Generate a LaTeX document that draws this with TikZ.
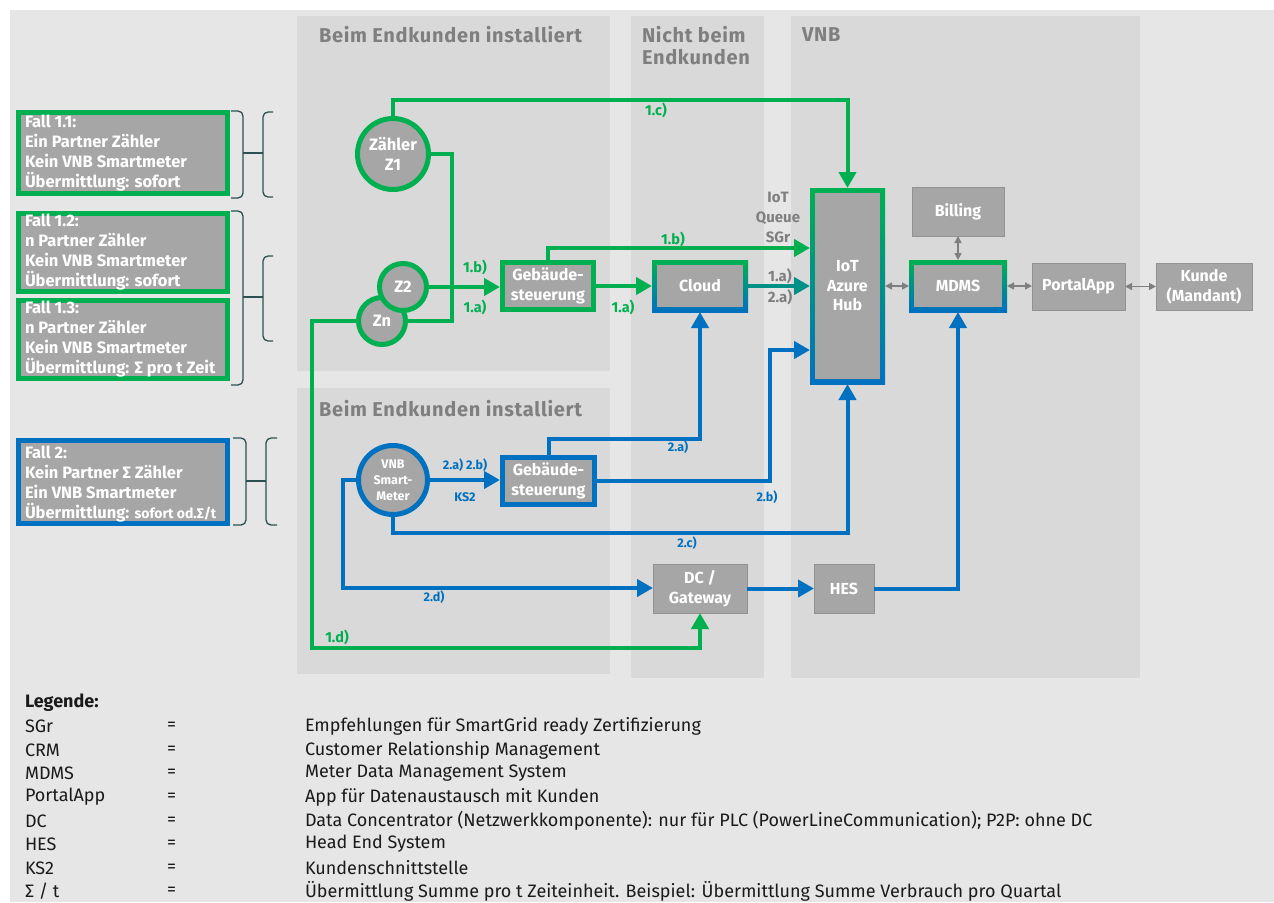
\documentclass[tikz,border=0pt]{standalone}
\usepackage{fontspec}
\setmainfont{Fira Sans}
\usetikzlibrary{arrows.meta,calc}
\definecolor{grn}{HTML}{00B050}
\definecolor{blu}{HTML}{0070C0}
\definecolor{boxg}{HTML}{A6A6A6}
\definecolor{pnl}{HTML}{D9D9D9}
\definecolor{bgc}{HTML}{E6E6E6}
\definecolor{hdr}{HTML}{7F7F7F}
\definecolor{brc}{HTML}{2A5050}
\definecolor{legc}{HTML}{1A1A1A}
\begin{document}
\begin{tikzpicture}[x=1pt,y=-1pt,
  every node/.style={inner sep=0pt, outer sep=0pt},
  gbox/.style={draw=grn, line width=5pt, fill=boxg, outer sep=2.5pt, text=white, align=center, font=\fontsize{16}{19.5}\selectfont\bfseries},
  bbox/.style={gbox, draw=blu},
  pbox/.style={draw=boxg!88!black, line width=0.8pt, fill=boxg, text=white, align=center, font=\fontsize{16}{19.5}\selectfont\bfseries},
  gradbox/.style={top color=grn, bottom color=blu, text=white, align=center, font=\fontsize{16}{19.5}\selectfont\bfseries,
    path picture={\fill[boxg] ([shift={(5pt,-5pt)}]path picture bounding box.north west) rectangle ([shift={(-5pt,5pt)}]path picture bounding box.south east);}},
  gcirc/.style={circle, draw=grn, line width=5pt, fill=boxg, outer sep=2.5pt, text=white, align=center, font=\fontsize{16.5}{20}\selectfont\bfseries},
  bcirc/.style={gcirc, draw=blu},
  falltxt/.style={text=white, align=left, anchor=west, font=\fontsize{16.5}{20}\selectfont\bfseries},
  hdrtxt/.style={text=hdr, align=left, anchor=west, font=\fontsize{20}{22}\selectfont\bfseries\addfontfeatures{LetterSpace=3.5}},
  glbl/.style={text=grn, font=\fontsize{14.5}{17}\selectfont\bfseries},
  blbl/.style={text=blu, font=\fontsize{12.5}{15}\selectfont\bfseries},
  gylbl/.style={text=hdr, align=center, font=\fontsize{15}{20}\selectfont\bfseries},
  gline/.style={draw=grn, line width=4pt},
  bline/.style={draw=blu, line width=4pt},
  tline/.style={draw=grn!50!blu, line width=4pt},
  arr/.style={-{Triangle[length=16pt,width=17pt]}},
  dbl/.style={draw=hdr, line width=1.5pt, {Triangle[length=7pt,width=7pt]}-{Triangle[length=7pt,width=7pt]}},
  brace/.style={draw=brc, line width=1.3pt, rounded corners=5pt},
  leg/.style={text=legc, anchor=west, font=\fontsize{18}{22}\selectfont}
]
\useasboundingbox (0,0) rectangle (1274,902);
\fill[white] (0,0) rectangle (1274,902);
\fill[bgc] (10,10) rectangle (1274,902);

% panels
\fill[pnl] (297,16) rectangle (610,371);
\fill[pnl] (297,388) rectangle (610,674);
\fill[pnl] (631,16) rectangle (764,678);
\fill[pnl] (791,16) rectangle (1140,678);

\node[hdrtxt] (h1) at (319,35) {Beim Endkunden installiert};
\node[hdrtxt] (h2) at (642,46) {Nicht beim\\Endkunden};
\node[hdrtxt] (h3) at (802,35) {VNB};
\node[hdrtxt] (h4) at (319,409) {Beim Endkunden installiert};

% case boxes
\node[gbox, minimum width=209pt, minimum height=81pt] (f11) at (123,153) {};
\node[falltxt] (f11t) at ([xshift=9pt]f11.west) {Fall 1.1:\\Ein Partner Zähler\\Kein VNB Smartmeter\\Übermittlung: sofort};
\node[gbox, minimum width=209pt, minimum height=78pt] (f12) at (123,252.5) {};
\node[falltxt] (f12t) at ([xshift=9pt]f12.west) {Fall 1.2:\\n Partner Zähler\\Kein VNB Smartmeter\\Übermittlung: sofort};
\node[gbox, minimum width=209pt, minimum height=78pt] (f13) at (123,339.5) {};
\node[falltxt] (f13t) at ([xshift=9pt]f13.west) {Fall 1.3:\\n Partner Zähler\\Kein VNB Smartmeter\\Übermittlung: Σ pro t Zeit};
\node[bbox, minimum width=209pt, minimum height=83pt] (f2) at (123,481.5) {};
\node[falltxt] (f2t) at ([xshift=9pt,yshift=-3pt]f2.west) {Fall 2:\\Kein Partner Σ Zähler\\Ein VNB Smartmeter\\Übermittlung: {\fontsize{14}{20}\selectfont sofort od.Σ/t}};

% braces
\draw[brace] (231,111) -- (243,111) -- (243,198) -- (231,198);
\draw[brace] (273,112) -- (263,112) -- (263,197) -- (273,197);
\draw[draw=brc, line width=1.3pt] (243,153) -- (263,153);
\draw[brace] (231,211) -- (243,211) -- (243,385) -- (231,385);
\draw[brace] (273,256) -- (263,256) -- (263,341) -- (273,341);
\draw[draw=brc, line width=1.3pt] (243,297) -- (263,297);
\draw[brace] (233,438) -- (246,438) -- (246,525) -- (233,525);
\draw[brace] (277,438) -- (266,438) -- (266,525) -- (277,525);
\draw[draw=brc, line width=1.3pt] (246,481) -- (266,481);

% nodes
\node[gcirc, minimum size=71pt] (z1) at (393,154) {Zähler\\Z1};
\node[gcirc, minimum size=47pt] (zn) at (382,321) {Zn};
\node[gcirc, minimum size=47pt] (z2) at (403,287) {Z2};
\node[gbox, minimum width=91pt, minimum height=47pt] (gs1) at (548,286) {Gebäude-\\steuerung};
\node[gradbox, minimum width=96pt, minimum height=52pt] (cloud) at (700,286) {Cloud};
\node[gradbox, minimum width=75pt, minimum height=196pt] (hub) at (847.5,286) {IoT\\Azure\\Hub};
\node[pbox, minimum width=92pt, minimum height=49pt] (bill) at (958,211.5) {Billing};
\node[gradbox, minimum width=98pt, minimum height=52pt] (mdms) at (958,286) {MDMS};
\node[pbox, minimum width=93pt, minimum height=47pt] (portal) at (1078.5,286.5) {PortalApp};
\node[pbox, minimum width=96pt, minimum height=47pt] (kunde) at (1204,286.5) {Kunde\\(Mandant)};
\node[bcirc, minimum size=69pt, font=\fontsize{12.5}{16}\selectfont\bfseries] (vnb) at (393,480) {VNB\\Smart-\\Meter};
\node[bbox, minimum width=92pt, minimum height=47pt] (gs2) at (548.5,481) {Gebäude-\\steuerung};
\node[pbox, minimum width=94pt, minimum height=49pt] (dc) at (700,588.5) {DC /\\Gateway};
\node[pbox, minimum width=60pt, minimum height=49pt] (hes) at (844,588.5) {HES};

\node[gylbl] (iotq) at (778,217) {IoT\\Queue\\SGr};

% coordinates
\coordinate (c100) at (0,100);
\coordinate (x452) at (452,0);
\coordinate (d1) at (312,648);
\coordinate (c248) at (0,248);
\coordinate (c439) at (0,439);
\coordinate (b1) at (770,350);
\coordinate (c533) at (500,533);
\coordinate (d2) at (343,588);

% green connectors
\draw[gline, arr] (z1.north) -- (z1.north |- c100) -| (hub.north);
\draw[gline] (z1.east) -| (x452 |- zn.east) -- (zn.east);
\draw[gline, arr] (z2.east) -- (z2.east -| gs1.west);
\draw[gline, arr] (zn.west) -| (d1) -| (dc.south);
\draw[gline, arr] (gs1.east) -- (gs1.east -| cloud.west);
\draw[gline, arr] (gs1.north) |- (hub.west |- c248);
\draw[tline, arr] (cloud.east) -- (cloud.east -| hub.west);

% blue connectors
\draw[bline, arr] (vnb.east) -- (vnb.east -| gs2.west);
\draw[bline, arr] (gs2.north) |- (cloud.south |- c439) -- (cloud.south);
\draw[bline, arr] (gs2.east) -| (b1) -- (b1 -| hub.west);
\draw[bline, arr] (vnb.south) |- (c533) -| (hub.south);
\draw[bline, arr] (vnb.west) -| (d2) -- (d2 -| dc.west);
\draw[bline, arr] (dc.east) -- (dc.east -| hes.west);
\draw[bline, arr] (hes.east) -| (mdms.south);

% gray double arrows
\draw[dbl] (hub.east |- mdms.west) -- (mdms.west);
\draw[dbl] (bill.south) -- (mdms.north);
\draw[dbl] (mdms.east) -- (mdms.east -| portal.west);
\draw[dbl] (portal.east) -- (portal.east -| kunde.west);

% labels
\node[glbl] (l1c) at (656,110) {1.c)};
\node[glbl] (l1b1) at (475,267) {1.b)};
\node[glbl] (l1a1) at (475,307) {1.a)};
\node[glbl] (l1a2) at (623,307) {1.a)};
\node[glbl] (l1b2) at (673,239) {1.b)};
\node[glbl] (l1d) at (337,637) {1.d)};
\node[gylbl] (l1a3) at (780,276) {1.a)};
\node[gylbl] (l2a3) at (780,297) {2.a)};
\node[blbl] (l2ab) at (465,465) {2.a) 2.b)};
\node[blbl] (lks2) at (465,497) {KS2};
\node[blbl] (l2a) at (678,447) {2.a)};
\node[blbl] (l2b) at (767,497) {2.b)};
\node[blbl] (l2c) at (687,543) {2.c)};
\node[blbl] (l2d) at (434,597) {2.d)};

% legend
\node[leg, font=\fontsize{18}{22}\selectfont\bfseries] (lh) at (25,703) {Legende:};
\node[leg] (k1) at (25,726) {SGr};
\node[leg] (k2) at (25,750) {CRM};
\node[leg] (k3) at (25,773) {MDMS};
\node[leg] (k4) at (25,797) {PortalApp};
\node[leg] (k5) at (25,821) {DC};
\node[leg] (k6) at (25,844) {HES};
\node[leg] (k7) at (25,868) {KS2};
\node[leg] (k8) at (25,891) {Σ / t};
\foreach \yy/\nn in {726/1,750/2,773/3,797/4,821/5,844/6,868/7,891/8}
  \node[leg] (e\nn) at (167,\yy) {=};
\node[leg] (d1t) at (305,726) {Empfehlungen für SmartGrid ready Zertifizierung};
\node[leg] (d2t) at (305,750) {Customer Relationship Management};
\node[leg] (d3t) at (305,773) {Meter Data Management System};
\node[leg] (d4t) at (305,797) {App für Datenaustausch mit Kunden};
\node[leg] (d5t) at (305,821) {Data Concentrator (Netzwerkkomponente): nur für PLC (PowerLineCommunication); P2P: ohne DC};
\node[leg] (d6t) at (305,844) {Head End System};
\node[leg] (d7t) at (305,868) {Kundenschnittstelle};
\node[leg] (d8t) at (305,891) {Übermittlung Summe pro t Zeiteinheit. Beispiel: Übermittlung Summe Verbrauch pro Quartal};
\end{tikzpicture}
\end{document}
